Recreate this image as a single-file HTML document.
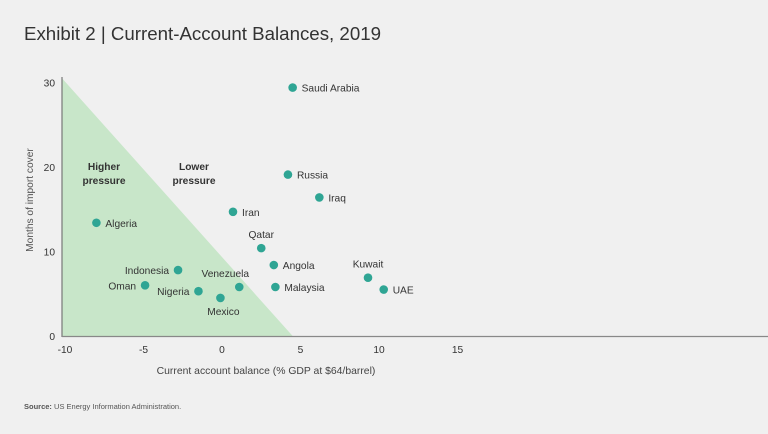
<!DOCTYPE html>
<html><head><meta charset="utf-8"><style>
body{margin:0;background:#f0f0f0;font-family:"Liberation Sans",sans-serif;}
svg{display:block}
</style></head><body>
<svg width="768" height="434">
<rect width="768" height="434" fill="#f0f0f0"/>
<text x="24" y="40" font-size="18.7" fill="#333">Exhibit 2 | Current-Account Balances, 2019</text>
<g id="plot"></g>
<text x="24" y="409" font-size="7.5" fill="#555"><tspan font-weight="bold">Source:</tspan> US Energy Information Administration.</text>
</svg>
<script>
const countries=["Saudi Arabia","Russia","Iraq","Iran","Algeria","Qatar","Angola","Kuwait","UAE","Malaysia","Venezuela","Indonesia","Oman","Nigeria","Mexico"];
const balance=[4.5,4.2,6.2,0.7,-8.0,2.5,3.3,9.3,10.3,3.4,1.1,-2.8,-4.9,-1.5,-0.1];
const cover=[29.4,19.1,16.4,14.7,13.4,10.4,8.4,6.9,5.5,5.8,5.8,7.8,6.0,5.3,4.5];
const labelPos=["r","r","r","r","r","t","r","t","r","r","tl","l","l","l","b"];
const xTicks=[-10,-5,0,5,10,15];
const yTicks=[0,10,20,30];
const ns="http://www.w3.org/2000/svg";
const g=document.getElementById("plot");
const X=v=>222+v*15.7, Y=v=>336-v*8.45;
function mk(t,a,txt){const e=document.createElementNS(ns,t);for(const k in a)e.setAttribute(k,a[k]);if(txt!==undefined)e.textContent=txt;g.appendChild(e);return e;}
const tri=mk("polygon",{points:`62,${Y(30.5)} 62,336 ${X(4.5)},336`,fill:"#c8e6c9"});


const ya=mk("line",{x1:62,y1:77,x2:62,y2:337,stroke:"#777","stroke-width":1.2});


const xa=mk("line",{x1:62,y1:336.5,x2:768,y2:336.5,stroke:"#888","stroke-width":1.2});


xTicks.forEach(v=>{const t=mk("text",{x:X(v),y:353,"font-size":10.2,fill:"#333","text-anchor":"middle"},String(v));

});
yTicks.forEach(v=>{const t=mk("text",{x:55,y:Y(v)+4,"font-size":10.2,fill:"#333","text-anchor":"end"},String(v));

});
const xt=mk("text",{x:266,y:374,"font-size":10.4,fill:"#444","text-anchor":"middle"},"Current account balance (% GDP at $64/barrel)");


const yt=mk("text",{x:0,y:0,"font-size":10.2,fill:"#555","text-anchor":"middle",transform:"translate(33,200) rotate(-90)"},"Months of import cover");


[["Higher",104,170],["pressure",104,184],["Lower",194,170],["pressure",194,184]].forEach((a,i)=>{const t=mk("text",{x:a[1],y:a[2],"font-size":10.2,"font-weight":"bold",fill:"#333","text-anchor":"middle"},a[0]);

});
countries.forEach((c,i)=>{const cx=X(balance[i]),cy=Y(cover[i]);
const d=mk("circle",{cx:cx,cy:cy,r:4.3,fill:"#2fa594"});


let p=labelPos[i],lx=cx+9,ly=cy+4,an="start";
if(p==="l"){lx=cx-9;an="end";}
if(p==="t"){lx=cx;ly=cy-10;an="middle";}
if(p==="tl"){lx=cx-14;ly=cy-10;an="middle";}
if(p==="b"){lx=cx+3;ly=cy+17;an="middle";}
const t=mk("text",{x:lx,y:ly,"font-size":10.2,fill:"#333","text-anchor":an},c);

});
</script>
</body></html>
